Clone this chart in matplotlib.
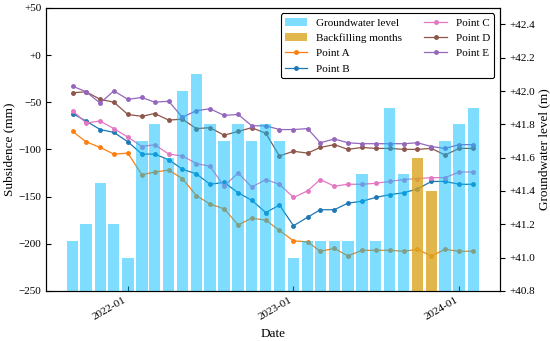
import numpy as np
import pandas as pd
import matplotlib
matplotlib.use("Agg")
import matplotlib.pyplot as plt
from matplotlib.ticker import FuncFormatter, MultipleLocator
import matplotlib.dates as mdates

plt.rcParams['font.family'] = ['Liberation Serif', 'DejaVu Serif']
plt.rcParams['axes.unicode_minus'] = True

months = pd.date_range("2021-09-01", "2024-02-01", freq="MS")

# groundwater level (m), backfilling months kept separate
groundwater = [41.1, 41.2, 41.45, 41.2, 41.0, 41.7, 41.8, 41.6, 42.0, 42.1,
               41.8, 41.7, 41.8, 41.7, 41.8, 41.7, 41.0, 41.1, 41.1, 41.1,
               41.1, 41.5, 41.1, 41.9, 41.5, np.nan, np.nan, 41.7, 41.8, 41.9]
backfilling = [np.nan] * 25 + [41.6, 41.4] + [np.nan] * 3

# subsidence (mm)
point_a = [-81, -92, -98, -105, -104, -127, -124, -122, -131, -149,
           -158, -163, -180, -173, -175, -186, -197, -198, -208, -205,
           -213, -207, -207, -207, -208, -206, -213, -206, -208, -208]
point_b = [-62, -70, -79, -82, -92, -105, -105, -111, -121, -126,
           -137, -135, -146, -154, -167, -159, -181, -172, -164, -164,
           -157, -155, -151, -148, -146, -142, -134, -134, -137, -137]
point_c = [-59, -72, -70, -78, -87, -97, -95, -105, -107, -115,
           -118, -139, -125, -140, -132, -137, -151, -144, -132, -139,
           -137, -137, -136, -134, -132, -131, -130, -130, -124, -124]
point_d = [-40, -39, -47, -50, -63, -65, -62, -69, -68, -78,
           -77, -85, -81, -77, -83, -107, -102, -104, -98, -95,
           -100, -98, -99, -99, -100, -100, -99, -106, -99, -99]
point_e = [-33, -39, -51, -38, -47, -45, -50, -49, -66, -59,
           -57, -64, -63, -75, -75, -79, -79, -78, -93, -89,
           -93, -94, -94, -94, -94, -93, -97, -99, -95, -95]

points = {
    "Point A": (point_a, "#ff7f0e"),
    "Point B": (point_b, "#1f77b4"),
    "Point C": (point_c, "#e377c2"),
    "Point D": (point_d, "#8c564b"),
    "Point E": (point_e, "#9467bd"),
}

fig, ax = plt.subplots(figsize=(5.5, 3.41), dpi=100)
fig.subplots_adjust(left=0.084, right=0.909, top=0.977, bottom=0.147)

line_handles = []
for name, (vals, color) in points.items():
    h, = ax.plot(months, vals, color=color, marker="o", markersize=2.5,
                 linewidth=0.9, label=name)
    line_handles.append(h)

ax.set_ylim(-250, 50)
ax.yaxis.set_major_locator(MultipleLocator(50))
ax.yaxis.set_major_formatter(FuncFormatter(lambda v, p: f"{v:+.0f}".replace("-", "\u2212")))
ax.set_ylabel("Subsidence (mm)", fontsize=9.5, labelpad=2)
ax.set_xlabel("Date", fontsize=9.5)
ax.tick_params(axis="both", direction="in", labelsize=8)
ax.xaxis.set_major_locator(mdates.YearLocator())
ax.xaxis.set_major_formatter(mdates.DateFormatter("%Y-%m"))
for lbl in ax.get_xticklabels():
    lbl.set_rotation(30)
    lbl.set_ha("right")
ax.set_xlim(pd.Timestamp("2021-07-05"), pd.Timestamp("2024-03-31"))

ax2 = ax.twinx()
b1 = ax2.bar(months, groundwater, width=25, color="deepskyblue", alpha=0.5,
             label="Groundwater level")
b2 = ax2.bar(months, backfilling, width=25, color="goldenrod", alpha=0.8,
             label="Backfilling months")
ax2.set_ylim(40.8, 42.5)
ax2.yaxis.set_major_locator(MultipleLocator(0.2))
ax2.yaxis.set_major_formatter(FuncFormatter(lambda v, p: f"{v:+.1f}"))
ax2.tick_params(axis="y", labelsize=8)
ax2.set_ylabel("Groundwater level (m)", fontsize=9.5, labelpad=2)

handles = [b1, b2] + line_handles
leg = ax2.legend(handles=handles, loc="upper right", ncol=2, fontsize=8,
                 framealpha=1, edgecolor="black")
leg.get_frame().set_linewidth(0.8)

plt.savefig("out.png", dpi=100)
